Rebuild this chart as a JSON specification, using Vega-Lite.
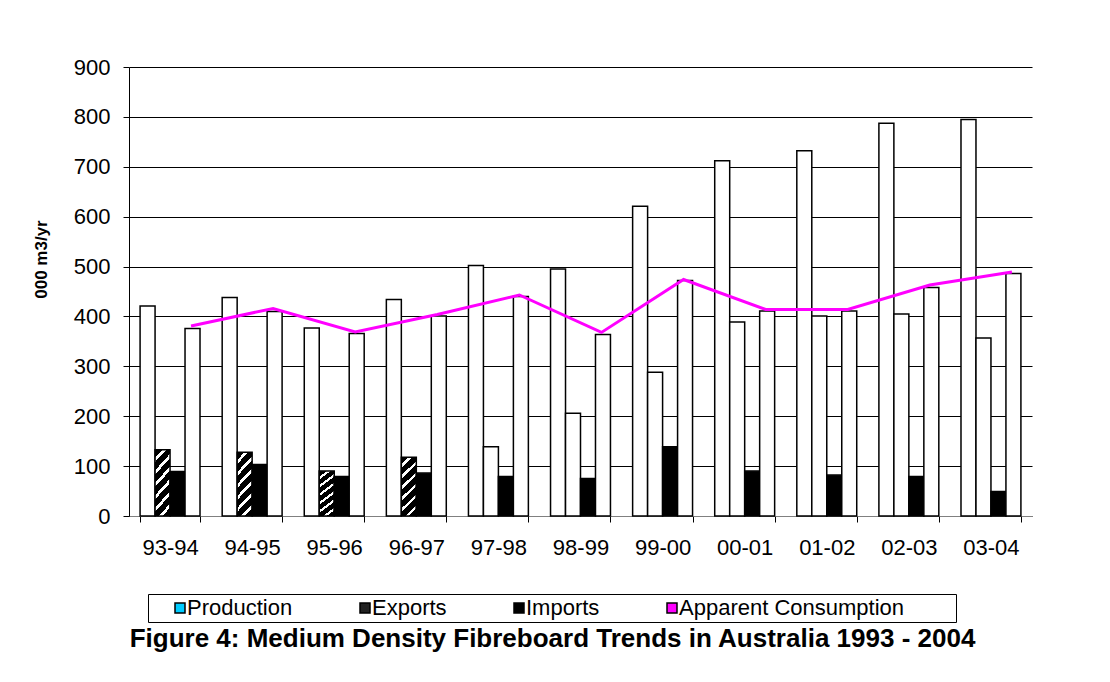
{
  "$schema": "https://vega.github.io/schema/vega-lite/v6.json",
  "width": 903,
  "height": 449,
  "autosize": {"type": "none"},
  "padding": {"left": 129, "top": 67, "right": 78, "bottom": 166},
  "background": "white",
  "config": {
    "view": {"stroke": null},
    "font": "Liberation Sans",
    "axis": {"labelFont": "Liberation Sans", "titleFont": "Liberation Sans", "labelColor": "#000", "titleColor": "#000", "tickColor": "#000", "domainColor": "#000"},
    "axisX": {"labelFontSize": 22, "labelPadding": 15, "tickSize": 6, "tickBand": "extent", "domainColor": "#808080", "labelAngle": 0, "grid": false},
    "axisY": {"titleFontSize": 17, "titleFontWeight": "bold", "titlePadding": 23, "titleY": 192, "labelFontSize": 22, "labelPadding": 13, "tickSize": 6, "grid": true, "gridColor": "#000", "gridWidth": 1}
  },
  "title": {
    "text": "Figure 4: Medium Density Fibreboard Trends in Australia 1993 - 2004",
    "orient": "bottom",
    "anchor": "middle",
    "frame": "group",
    "fontSize": 26,
    "fontWeight": "bold",
    "font": "Liberation Sans",
    "color": "#000",
    "offset": 3,
    "dx": -28
  },
  "datasets": {
    "bars": [
      {"year": "93-94", "series": "Production", "value": 421},
      {"year": "93-94", "series": "Exports", "value": 133},
      {"year": "93-94", "series": "Imports", "value": 89},
      {"year": "93-94", "series": "Apparent Consumption", "value": 376},
      {"year": "94-95", "series": "Production", "value": 438},
      {"year": "94-95", "series": "Exports", "value": 128},
      {"year": "94-95", "series": "Imports", "value": 103},
      {"year": "94-95", "series": "Apparent Consumption", "value": 410},
      {"year": "95-96", "series": "Production", "value": 377},
      {"year": "95-96", "series": "Exports", "value": 90},
      {"year": "95-96", "series": "Imports", "value": 79},
      {"year": "95-96", "series": "Apparent Consumption", "value": 366},
      {"year": "96-97", "series": "Production", "value": 434},
      {"year": "96-97", "series": "Exports", "value": 118},
      {"year": "96-97", "series": "Imports", "value": 86},
      {"year": "96-97", "series": "Apparent Consumption", "value": 401},
      {"year": "97-98", "series": "Production", "value": 502},
      {"year": "97-98", "series": "Exports", "value": 139},
      {"year": "97-98", "series": "Imports", "value": 79},
      {"year": "97-98", "series": "Apparent Consumption", "value": 440},
      {"year": "98-99", "series": "Production", "value": 495},
      {"year": "98-99", "series": "Exports", "value": 206},
      {"year": "98-99", "series": "Imports", "value": 75},
      {"year": "98-99", "series": "Apparent Consumption", "value": 364},
      {"year": "99-00", "series": "Production", "value": 621},
      {"year": "99-00", "series": "Exports", "value": 288},
      {"year": "99-00", "series": "Imports", "value": 139},
      {"year": "99-00", "series": "Apparent Consumption", "value": 472},
      {"year": "00-01", "series": "Production", "value": 712},
      {"year": "00-01", "series": "Exports", "value": 389},
      {"year": "00-01", "series": "Imports", "value": 90},
      {"year": "00-01", "series": "Apparent Consumption", "value": 411},
      {"year": "01-02", "series": "Production", "value": 732},
      {"year": "01-02", "series": "Exports", "value": 401},
      {"year": "01-02", "series": "Imports", "value": 82},
      {"year": "01-02", "series": "Apparent Consumption", "value": 411},
      {"year": "02-03", "series": "Production", "value": 787},
      {"year": "02-03", "series": "Exports", "value": 405},
      {"year": "02-03", "series": "Imports", "value": 79},
      {"year": "02-03", "series": "Apparent Consumption", "value": 458},
      {"year": "03-04", "series": "Production", "value": 795},
      {"year": "03-04", "series": "Exports", "value": 357},
      {"year": "03-04", "series": "Imports", "value": 49},
      {"year": "03-04", "series": "Apparent Consumption", "value": 486}
    ],
    "line": [
      {"year": "93-94", "consumption": 381},
      {"year": "94-95", "consumption": 416},
      {"year": "95-96", "consumption": 369},
      {"year": "96-97", "consumption": 404},
      {"year": "97-98", "consumption": 443},
      {"year": "98-99", "consumption": 368},
      {"year": "99-00", "consumption": 474},
      {"year": "00-01", "consumption": 414},
      {"year": "01-02", "consumption": 414},
      {"year": "02-03", "consumption": 463},
      {"year": "03-04", "consumption": 489}
    ]
  },
  "layer": [
    {
      "data": {"name": "bars"},
      "mark": {"type": "bar", "stroke": "#000", "strokeWidth": 1.5},
      "encoding": {
        "x": {
          "field": "year",
          "type": "nominal",
          "title": null,
          "scale": {"domain": ["93-94", "94-95", "95-96", "96-97", "97-98", "98-99", "99-00", "00-01", "01-02", "02-03", "03-04"], "paddingInner": 0.27, "paddingOuter": 0.135}
        },
        "xOffset": {
          "field": "series",
          "type": "nominal",
          "scale": {"domain": ["Production", "Exports", "Imports", "Apparent Consumption"], "paddingInner": 0, "paddingOuter": 0}
        },
        "y": {
          "field": "value",
          "type": "quantitative",
          "title": "000 m3/yr",
          "scale": {"domain": [0, 900], "nice": false},
          "axis": {"values": [0, 100, 200, 300, 400, 500, 600, 700, 800, 900]}
        },
        "fill": {
          "condition": [
            {"test": "datum.series === 'Exports' && indexof(['93-94','94-95','95-96','96-97'], datum.year) >= 0",
             "value": {"gradient": "linear", "x1": 0, "y1": 0, "x2": 0.294, "y2": 1.176, "stops": [
                {"offset": 0, "color": "#000"}, {"offset": 0.1, "color": "#000"}, {"offset": 0.1, "color": "#fff"}, {"offset": 0.15, "color": "#fff"},
                {"offset": 0.15, "color": "#000"}, {"offset": 0.25, "color": "#000"}, {"offset": 0.25, "color": "#fff"}, {"offset": 0.3, "color": "#fff"},
                {"offset": 0.3, "color": "#000"}, {"offset": 0.4, "color": "#000"}, {"offset": 0.4, "color": "#fff"}, {"offset": 0.45, "color": "#fff"},
                {"offset": 0.45, "color": "#000"}, {"offset": 0.55, "color": "#000"}, {"offset": 0.55, "color": "#fff"}, {"offset": 0.6, "color": "#fff"},
                {"offset": 0.6, "color": "#000"}, {"offset": 0.7, "color": "#000"}, {"offset": 0.7, "color": "#fff"}, {"offset": 0.75, "color": "#fff"},
                {"offset": 0.75, "color": "#000"}, {"offset": 0.85, "color": "#000"}, {"offset": 0.85, "color": "#fff"}, {"offset": 0.9, "color": "#fff"},
                {"offset": 0.9, "color": "#000"}, {"offset": 1, "color": "#000"}
              ]}},
            {"test": "datum.series !== 'Imports'", "value": "#ffffff"}
          ],
          "field": "series",
          "type": "nominal",
          "scale": {
            "domain": ["Production", "Exports", "Imports", "Apparent Consumption"],
            "range": ["#00CCFF", "#222222", "#000000", "#FF00FF"]
          },
          "legend": {
            "title": null,
            "orient": "none",
            "legendX": 19,
            "legendY": 527,
            "direction": "horizontal",
            "strokeColor": "#000",
            "fillColor": "#fff",
            "padding": 3,
            "symbolType": "square",
            "symbolSize": 100,
            "symbolOpacity": 1,
            "symbolOffset": 18,
            "labelOffset": -4,
            "labelFontSize": 22,
            "labelFont": "Liberation Sans",
            "labelColor": "#000",
            "labelLimit": 400,
            "columnPadding": 43,
            "labelExpr": "datum.label === 'Apparent Consumption' ? datum.label + '\u2800\u2800\u2800' : datum.label",
            "encode": {
              "symbols": {
                "stroke": {"value": "#000"},
                "strokeWidth": {"value": 1}
              }
            }
          }
        }
      }
    },
    {
      "data": {"name": "line"},
      "mark": {"type": "line", "color": "#FF00FF", "strokeWidth": 3},
      "encoding": {
        "x": {"field": "year", "type": "nominal", "title": null, "bandPosition": 0.85},
        "y": {"field": "consumption", "type": "quantitative", "title": "000 m3/yr"}
      }
    }
  ]
}
